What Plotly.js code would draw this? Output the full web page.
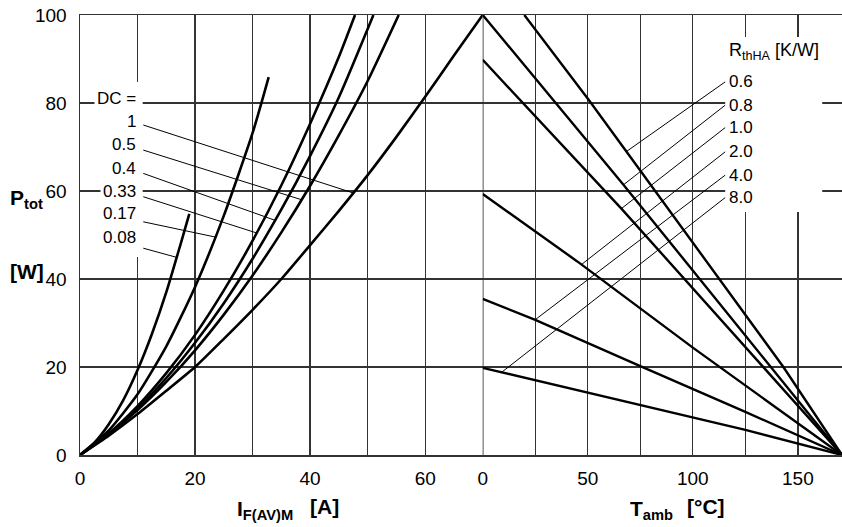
<!DOCTYPE html>
<html><head><meta charset="utf-8">
<script src="https://cdn.plot.ly/plotly-3.0.1.min.js"></script>
<style>body{margin:0;background:#fff}#chart{width:842px;height:527px}</style>
</head><body><div id="chart"></div>
<script>
// ---- Left panel: P_tot vs I_F(AV)M for duty cycles ----
const dcLabels = ['1', '0.5', '0.4', '0.33', '0.17', '0.08'];
const ifDC1   = [0, 5, 10, 15, 20, 25, 30, 35, 40, 45, 50, 55, 60, 65, 70];
const pDC1    = [0, 4.4, 9.3, 14.6, 20, 26.4, 33, 40, 47.7, 55.5, 63.6, 72.3, 81.4, 90.8, 100];
const ifDC05  = [0, 5, 10, 15, 20, 25, 30, 35, 40, 45, 50, 55.4];
const pDC05   = [0, 4.7, 10.2, 16.6, 23.8, 31.9, 40.8, 50.6, 61.2, 72.7, 85, 100];
const ifDC04  = [0, 5, 10, 15, 20, 25, 30, 35, 40, 45, 51];
const pDC04   = [0, 4.8, 10.6, 17.5, 25.5, 34.5, 44.6, 55.8, 68, 81.3, 100];
const ifDC033 = [0, 5, 10, 15, 20, 25, 30, 35, 40, 45, 47.8];
const pDC033  = [0, 4.9, 11.1, 18.6, 27.3, 37.4, 48.7, 61.3, 75.3, 90.5, 100];
const ifDC017 = [0, 5, 10, 15, 20, 25, 30, 32.8];
const pDC017  = [0, 5.6, 13.8, 24.7, 38.2, 54.4, 73.2, 85.9];
const ifDC008 = [0, 2.5, 5, 7.5, 10, 12.5, 15, 17.5, 19];
const pDC008  = [0, 2.8, 7, 12.4, 19.3, 27.5, 37, 48, 54.8];

// ---- Right panel: P_tot vs T_amb for R_thHA ----
const rthLabels = ['0.6', '0.8', '1.0', '2.0', '4.0', '8.0'];
const tR06 = [19.8, 50.5, 67.6, 112.7, 143.1, 171];
const pR06 = [100, 80.7, 69.5, 40, 20, 0];
const tR08 = [0, 66, 171];
const pR08 = [100, 62, 0];
const tR10 = [0, 66, 171];
const pR10 = [89.8, 56, 0];
const tR20 = [0, 45, 100, 171];
const pR20 = [59.3, 44, 24.4, 0];
const tR40 = [0, 25, 75, 125, 171];
const pR40 = [35.5, 30.7, 20.2, 9.8, 0];
const tR80 = [0, 75, 125, 171];
const pR80 = [19.8, 11.4, 5.7, 0];

// ---- Axis ticks ----
const leftTickVals   = [0, 20, 40, 60];
const leftMinorVals  = [10, 30, 50, 70];
const rightTickVals  = [0, 50, 100, 150];
const rightMinorVals = [25, 75, 125];
const yTickVals      = [0, 20, 40, 60, 80, 100];

// ---- label layout (positions, not data) ----
const dcLeaderTouchX  = [47.5, 38.5, 33.9, 30.7, 23.5, 16.8];
const dcLeaderStartY  = [75.0, 69.3, 64.0, 58.7, 53.0, 47.0];
const dcLabelY        = [75.7, 70.5, 65.2, 60.0, 54.8, 49.5];
const rthLeaderTouchX = [68.4, 67.0, 66.0, 47.0, 24.9, 9.0];
const rthLabelY       = [84.8, 79.5, 74.4, 68.9, 63.6, 58.5];

const dcSeries  = [[ifDC1, pDC1], [ifDC05, pDC05], [ifDC04, pDC04], [ifDC033, pDC033], [ifDC017, pDC017], [ifDC008, pDC008]];
const rthSeries = [[tR06, pR06], [tR08, pR08], [tR10, pR10], [tR20, pR20], [tR40, pR40], [tR80, pR80]];

function interp(xs, ys, x) {
  for (let i = 0; i < xs.length - 1; i++) {
    if (x >= xs[i] && x <= xs[i + 1]) return ys[i] + (ys[i + 1] - ys[i]) * (x - xs[i]) / (xs[i + 1] - xs[i]);
  }
  return ys[ys.length - 1];
}

const FONT = 'Liberation Sans, Arial, Helvetica, sans-serif';
const traces = [];
dcSeries.forEach(s => traces.push({
  x: s[0], y: s[1], type: 'scatter', mode: 'lines', xaxis: 'x', yaxis: 'y',
  line: {color: '#000', width: 2.6, shape: 'spline', smoothing: 0.6},
  hoverinfo: 'skip', showlegend: false
}));
rthSeries.forEach(s => traces.push({
  x: s[0], y: s[1], type: 'scatter', mode: 'lines', xaxis: 'x2', yaxis: 'y',
  line: {color: '#000', width: 2.4},
  hoverinfo: 'skip', showlegend: false
}));

const shapes = [];
shapes.push({type: 'line', xref: 'x2', yref: 'y', x0: 0, x1: 0, y0: 0, y1: 100, line: {color: '#222', width: 1.5}, layer: 'below'});
shapes.push({type: 'rect', xref: 'x', yref: 'y', x0: 8.4, x1: 10.9, y0: 45, y1: 84.8, fillcolor: '#fff', line: {width: 0}, layer: 'above'});
shapes.push({type: 'rect', xref: 'x2', yref: 'y', x0: 115.4, x1: 161.6, y0: 55.2, y1: 95, fillcolor: '#fff', line: {width: 0}, layer: 'above'});
dcSeries.forEach((s, i) => {
  const tx = dcLeaderTouchX[i];
  shapes.push({type: 'line', xref: 'x', yref: 'y', x0: 11.0, y0: dcLeaderStartY[i], x1: tx, y1: interp(s[0], s[1], tx), line: {color: '#000', width: 1}, layer: 'above'});
});
rthSeries.forEach((s, i) => {
  const tx = rthLeaderTouchX[i];
  shapes.push({type: 'line', xref: 'x2', yref: 'y', x0: 115.4, y0: rthLabelY[i], x1: tx, y1: interp(s[0], s[1], tx), line: {color: '#000', width: 1}, layer: 'above'});
});

const annotations = [];
annotations.push({xref: 'x', yref: 'y', x: 10.3, y: 81.1, xanchor: 'right', yanchor: 'middle', text: 'DC =', showarrow: false, font: {family: FONT, size: 17, color: '#000'}, bgcolor: '#fff', borderpad: 2});
dcLabels.forEach((t, i) => annotations.push({xref: 'x', yref: 'y', x: 10.3, y: dcLabelY[i], xanchor: 'right', yanchor: 'middle', text: t, showarrow: false, font: {family: FONT, size: 17, color: '#000'}, bgcolor: '#fff', borderpad: 2}));
annotations.push({xref: 'x2', yref: 'y', x: 116.2, y: 91.6, xanchor: 'left', yanchor: 'middle', text: 'R<sub>thHA</sub> [K/W]', showarrow: false, font: {family: FONT, size: 18, color: '#000'}});
rthLabels.forEach((t, i) => annotations.push({xref: 'x2', yref: 'y', x: 116.2, y: rthLabelY[i], xanchor: 'left', yanchor: 'middle', text: t, showarrow: false, font: {family: FONT, size: 17, color: '#000'}}));
const tf = {family: FONT, size: 21, color: '#000'};
annotations.push({xref: 'paper', yref: 'paper', x: -0.0945, y: 0.582, xanchor: 'left', yanchor: 'middle', text: '<b>P<sub>tot</sub></b>', showarrow: false, font: tf});
annotations.push({xref: 'paper', yref: 'paper', x: -0.0945, y: 0.418, xanchor: 'left', yanchor: 'middle', text: '<b>[W]</b>', showarrow: false, font: tf});
annotations.push({xref: 'paper', yref: 'paper', x: 0.2034, y: -0.126, xanchor: 'left', yanchor: 'middle', text: '<b>I<sub>F(AV)M</sub></b>', showarrow: false, font: tf});
annotations.push({xref: 'paper', yref: 'paper', x: 0.2992, y: -0.118, xanchor: 'left', yanchor: 'middle', text: '<b>[A]</b>', showarrow: false, font: tf});
annotations.push({xref: 'paper', yref: 'paper', x: 0.719, y: -0.126, xanchor: 'left', yanchor: 'middle', text: '<b>T<sub>amb</sub></b>', showarrow: false, font: tf});
annotations.push({xref: 'paper', yref: 'paper', x: 0.794, y: -0.118, xanchor: 'left', yanchor: 'middle', text: '<b>[°C]</b>', showarrow: false, font: tf});

const gridC = '#333';
const tickFont = {family: FONT, size: 19, color: '#000'};
function minorGrid(vals) { return {tickmode: 'array', tickvals: vals, showgrid: true, gridcolor: gridC, gridwidth: 1.3, ticks: ''}; }
const layout = {
  width: 842, height: 527,
  margin: {l: 80, r: 0, t: 15, b: 72},
  paper_bgcolor: '#fff', plot_bgcolor: '#fff',
  showlegend: false,
  xaxis: {domain: [0, 0.5285], range: [0, 70], tickmode: 'array', tickvals: leftTickVals,
          minor: minorGrid(leftMinorVals),
          showgrid: true, gridcolor: gridC, gridwidth: 1.3, zeroline: false, showline: true, mirror: true,
          linecolor: gridC, linewidth: 1.5, ticks: '', ticklabelstandoff: 6, tickfont: tickFont, anchor: 'y', fixedrange: true},
  xaxis2: {domain: [0.5285, 1], range: [0, 171], tickmode: 'array', tickvals: rightTickVals,
          minor: minorGrid(rightMinorVals),
          showgrid: true, gridcolor: gridC, gridwidth: 1.3, zeroline: false, showline: true, mirror: true,
          linecolor: gridC, linewidth: 1.5, ticks: '', ticklabelstandoff: 6, tickfont: tickFont, anchor: 'y', fixedrange: true},
  yaxis: {range: [0, 100], tickmode: 'array', tickvals: yTickVals, showgrid: true, gridcolor: gridC, gridwidth: 1.3,
          zeroline: false, showline: true, linecolor: gridC, linewidth: 1.5, ticks: '', ticklabelstandoff: 8,
          tickfont: tickFont, fixedrange: true},
  shapes: shapes,
  annotations: annotations
};
Plotly.newPlot('chart', traces, layout, {displayModeBar: false, staticPlot: true});
</script></body></html>
